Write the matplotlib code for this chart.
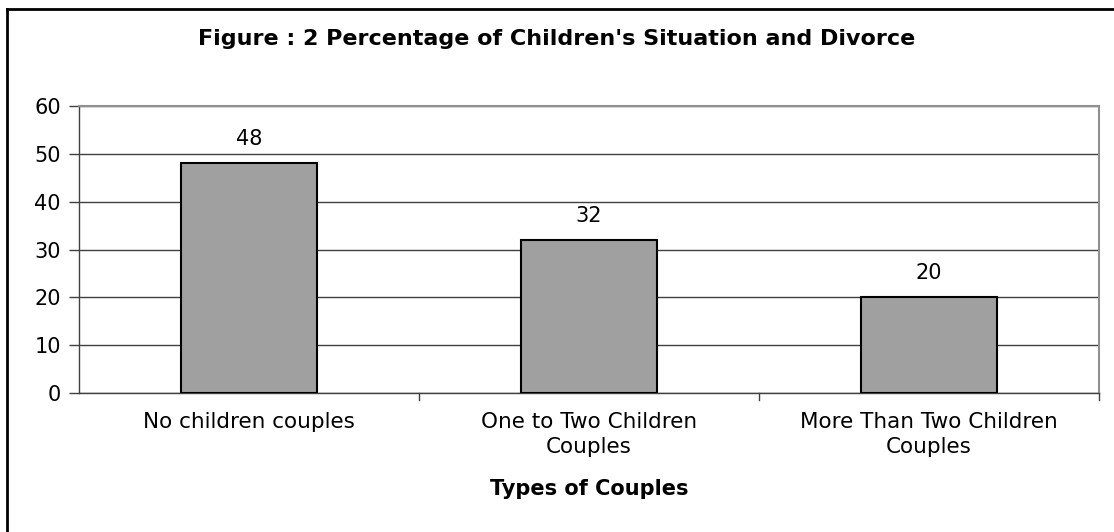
import matplotlib
matplotlib.use("Agg")
import matplotlib.pyplot as plt
from matplotlib.lines import Line2D

plt.rcParams['font.family'] = ['DejaVu Sans']

categories = ["No children couples", "One to Two Children\nCouples", "More Than Two Children\nCouples"]
values = [48, 32, 20]
yticks = [0, 10, 20, 30, 40, 50, 60]
title = "Figure : 2 Percentage of Children's Situation and Divorce"
xlabel = "Types of Couples"

W, H = 1114, 532
fig = plt.figure(figsize=(W / 100, H / 100), dpi=100)
ax = fig.add_axes([79 / W, 1 - 393 / H, (1099 - 79) / W, (393 - 106) / H])

x = list(range(len(categories)))
ax.bar(x, values, width=0.4, color="#a0a0a0", edgecolor="black", linewidth=1.5, zorder=3)
for xi, v in zip(x, values):
    ax.text(xi, v + 3.0, str(v), ha="center", va="bottom", fontsize=15)

ax.set_xlim(-0.5, len(categories) - 0.5)
ax.set_ylim(0, 60)
ax.set_yticks(yticks)
ax.tick_params(axis="y", labelsize=15, length=7, width=1, color="#404040", pad=6)
ax.yaxis.grid(True, color="#404040", linewidth=1)
ax.set_axisbelow(True)

# category labels centred on bars, separator ticks between categories
ax.set_xticks(x)
ax.set_xticklabels(categories, fontsize=15.5, linespacing=1.3)
ax.tick_params(axis="x", length=0, pad=14)
for sep in [0.5, 1.5, 2.5]:
    ax.plot([sep, sep], [0, -0.025], transform=ax.get_xaxis_transform(),
            color="#404040", linewidth=1, clip_on=False)

for side in ["top", "right"]:
    ax.spines[side].set_color("#909090")
    ax.spines[side].set_linewidth(1.5)
for side in ["left", "bottom"]:
    ax.spines[side].set_color("#404040")
    ax.spines[side].set_linewidth(1)

ax.set_xlabel(xlabel, fontsize=15, fontweight="bold", labelpad=16)
fig.text(0.5, 1 - 39 / H, title, ha="center", va="center", fontsize=16, fontweight="bold")

# outer frame of the chart
fig.add_artist(Line2D([7 / W, 7 / W], [0, 1 - 9 / H], color="black", linewidth=2, transform=fig.transFigure))
fig.add_artist(Line2D([7 / W, 1], [1 - 9 / H, 1 - 9 / H], color="black", linewidth=2, transform=fig.transFigure))

fig.savefig("out.png", dpi=100, facecolor="white")
